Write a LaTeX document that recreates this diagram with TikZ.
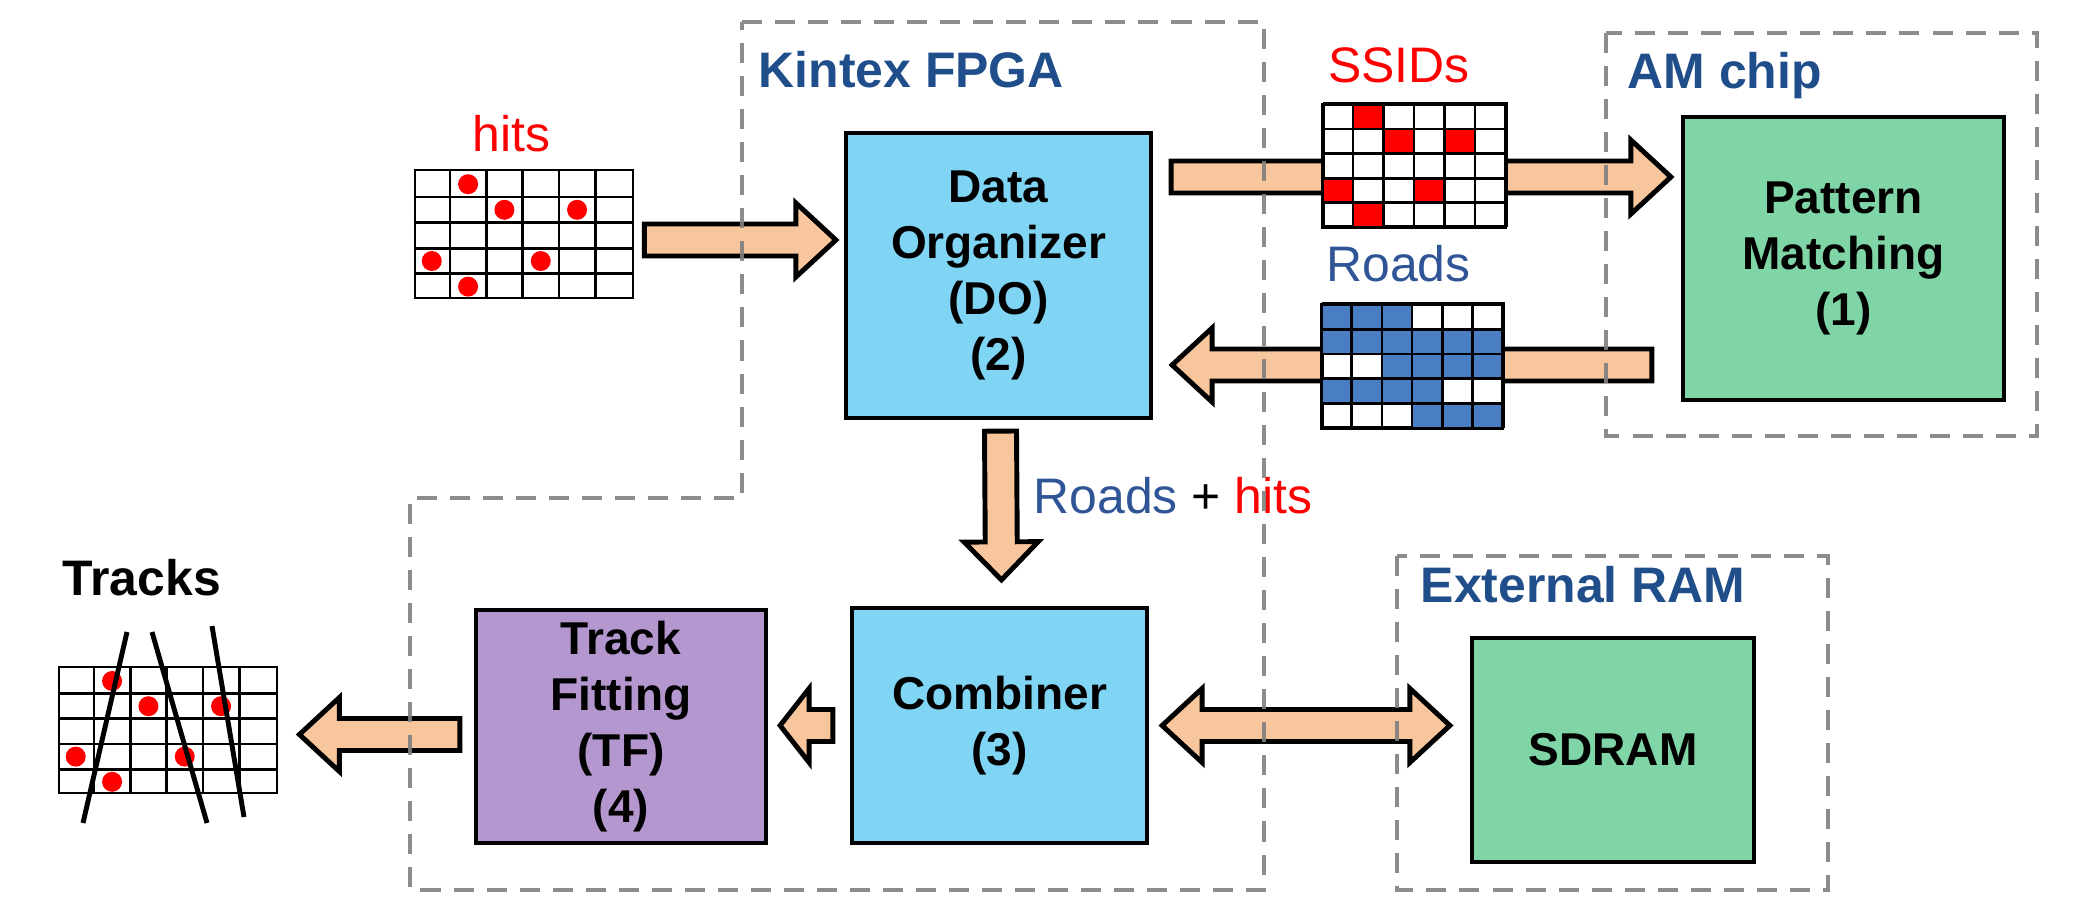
\documentclass[tikz,border=0pt]{standalone}
\usepackage{fontspec}
\setmainfont{Liberation Sans}
\usetikzlibrary{calc}

\definecolor{doblue}{HTML}{80D5F5}
\definecolor{tfpurple}{HTML}{B497CF}
\definecolor{amgreen}{HTML}{80D5A7}
\definecolor{arrowpeach}{HTML}{F8C69C}
\definecolor{titleblue}{HTML}{1F4E8A}
\definecolor{roadtext}{HTML}{2F5597}
\definecolor{roadcell}{HTML}{4A7EC2}
\definecolor{hitred}{HTML}{FF0000}
\definecolor{zonegray}{HTML}{808080}

\newcommand{\boxfont}{\fontsize{13.1}{15.9}\selectfont\bfseries}
\newcommand{\lblfont}{\fontsize{14.2}{17}\selectfont}

% fat block arrow from #2 to #3, head length #1 (cm)
\newcommand{\fatarrow}[3][0.40]{%
  \draw[blockarrow] let \p1=(#2), \p2=(#3),
      \n1={atan2(\y2-\y1,\x2-\x1)}, \n2={veclen(\x2-\x1,\y2-\y1)} in
    [shift={(\p1)}, rotate=\n1]
    (0cm,-0.16cm) -- ({\n2-#1cm},-0.16cm) -- ({\n2-#1cm},-0.37cm)
    -- (\n2,0cm) -- ({\n2-#1cm},0.37cm) -- ({\n2-#1cm},0.16cm)
    -- (0cm,0.16cm) -- cycle;}

% fat arrow with a head at both ends
\newcommand{\dblarrow}[2]{%
  \draw[blockarrow] let \p1=(#1), \p2=(#2),
      \n1={atan2(\y2-\y1,\x2-\x1)}, \n2={veclen(\x2-\x1,\y2-\y1)} in
    [shift={(\p1)}, rotate=\n1]
    (0cm,0cm) -- (0.40cm,0.37cm) -- (0.40cm,0.16cm) -- ({\n2-0.40cm},0.16cm)
    -- ({\n2-0.40cm},0.37cm) -- (\n2,0cm) -- ({\n2-0.40cm},-0.37cm)
    -- ({\n2-0.40cm},-0.16cm) -- (0.40cm,-0.16cm) -- (0.40cm,-0.37cm) -- cycle;}

\begin{document}
\begin{tikzpicture}[
    block/.style={draw=black, line width=1.2pt, inner sep=0pt,
                  font=\boxfont, align=center},
    gridbox/.style={draw=black, line width=0.8pt, fill=white, inner sep=0pt},
    cellline/.style={black, line width=0.75pt},
    blockarrow/.style={draw=black, line width=1.4pt, line join=miter,
                       fill=arrowpeach},
    zone/.style={draw=zonegray, line width=1.15pt,
                 dash pattern=on 5.7pt off 3.7pt, opacity=0.9},
    lbl/.style={font=\lblfont, inner sep=0pt},
    title/.style={font=\lblfont\bfseries, text=titleblue, inner sep=0pt,
                  anchor=base west},
    hit/.style={fill=hitred},
    trackline/.style={black, line width=1.4pt},
]

\path[use as bounding box] (0,0) rectangle (20.81,9.00);

% --- Blocks ---
\node[block, fill=doblue, minimum width=3.05cm, minimum height=2.85cm]
    (DO) at (9.985,6.245) {Data\\Organizer\\(DO)\\(2)};
\node[block, fill=doblue, minimum width=2.95cm, minimum height=2.35cm]
    (comb) at (9.995,1.745) {Combiner\\(3)};
\node[block, fill=tfpurple, minimum width=2.90cm, minimum height=2.33cm]
    (TF) at (6.21,1.735) {Track\\Fitting\\(TF)\\(4)};
\node[block, fill=amgreen, minimum width=3.21cm, minimum height=2.83cm]
    (PM) at (18.435,6.415) {Pattern\\Matching\\(1)};
\node[block, fill=amgreen, minimum width=2.82cm, minimum height=2.24cm]
    (SDRAM) at (16.13,1.50) {SDRAM};

% --- hits and tracks grids ---
\node[gridbox, minimum width=2.18cm, minimum height=1.28cm]
    (hitsgrid) at (5.24,6.66) {};
\begin{scope}[shift={(hitsgrid.south west)}, x=0.3633cm, y=0.256cm]
  \foreach \i in {1,...,5} \draw[cellline] (\i,0) -- (\i,5);
  \foreach \j in {1,...,4} \draw[cellline] (0,\j) -- (6,\j);
  \foreach \cx/\cy in {1.5/4.5, 2.5/3.5, 4.5/3.5, 0.5/1.5, 3.5/1.5, 1.5/0.5}
    \fill[hit] (\cx,\cy) circle[radius=0.1cm];
\end{scope}

\node[gridbox, minimum width=2.18cm, minimum height=1.26cm]
    (tracksgrid) at (1.68,1.70) {};
\begin{scope}[shift={(tracksgrid.south west)}, x=0.3633cm, y=0.252cm]
  \foreach \i in {1,...,5} \draw[cellline] (\i,0) -- (\i,5);
  \foreach \j in {1,...,4} \draw[cellline] (0,\j) -- (6,\j);
  \foreach \cx/\cy in {1.5/4.5, 2.5/3.5, 4.5/3.5, 0.5/1.5, 3.5/1.5, 1.5/0.5}
    \fill[hit] (\cx,\cy) circle[radius=0.1cm];
\end{scope}
\draw[trackline] (1.27,2.68) -- (0.83,0.77);
\draw[trackline] (1.52,2.68) -- (2.07,0.77);
\draw[trackline] (2.12,2.74) -- (2.44,0.83);

% --- Arrows ---
\coordinate (hitsy) at (0,6.60);
\coordinate (ssidy) at (0,7.23);
\coordinate (roady) at (0,5.35);
\fatarrow{$(hitsgrid.east |- hitsy)+(0.10,0)$}{$(DO.west |- hitsy)+(-0.08,0)$}
\fatarrow{$(DO.east |- ssidy)+(0.18,0)$}{$(PM.west |- ssidy)+(-0.10,0)$}
\fatarrow{$(PM.west |- roady)+(-0.29,0)$}{$(DO.east |- roady)+(0.19,0)$}
\fatarrow[0.38]{$(DO.south)+(0.02,-0.11)$}{$(comb.north)+(0.02,0.26)$}
\fatarrow[0.29]{$(comb.west)+(-0.17,0)$}{$(TF.east |- comb.west)+(0.12,0)$}
\fatarrow{$(TF.west)+(-0.14,-0.08)$}{$(tracksgrid.east |- TF.west)+(0.21,-0.08)$}
\dblarrow{$(comb.east)+(0.13,0)$}{$(SDRAM.west |- comb.east)+(-0.20,0)$}

% --- SSIDs and Roads grids (on top of the arrows) ---
\node[gridbox, minimum width=1.83cm, minimum height=1.23cm]
    (ssidgrid) at (14.155,7.355) {};
\begin{scope}[shift={(ssidgrid.south west)}, x=0.305cm, y=0.246cm]
  \foreach \cx/\cy in {1/4, 2/3, 4/3, 0/1, 3/1, 1/0}
    \fill[hitred] (\cx,\cy) rectangle ++(1,1);
  \foreach \i in {1,...,5} \draw[cellline] (\i,0) -- (\i,5);
  \foreach \j in {1,...,4} \draw[cellline] (0,\j) -- (6,\j);
  \draw[cellline] (0,0) rectangle (6,5);
\end{scope}

\node[gridbox, minimum width=1.81cm, minimum height=1.24cm]
    (roadgrid) at (14.135,5.35) {};
\begin{scope}[shift={(roadgrid.south west)}, x=0.3017cm, y=0.248cm]
  \foreach \cx/\cy in {0/4,1/4,2/4, 0/3,1/3,2/3,3/3,4/3,5/3,
                       2/2,3/2,4/2,5/2, 0/1,1/1,2/1,3/1, 3/0,4/0,5/0}
    \fill[roadcell] (\cx,\cy) rectangle ++(1,1);
  \foreach \i in {1,...,5} \draw[cellline] (\i,0) -- (\i,5);
  \foreach \j in {1,...,4} \draw[cellline] (0,\j) -- (6,\j);
  \draw[cellline] (0,0) rectangle (6,5);
\end{scope}

% --- Labels ---
\node[lbl, text=hitred, anchor=base] (hitslbl) at (5.115,7.48) {hits};
\node[lbl, text=hitred, anchor=base] (ssidlbl) at (13.99,8.17) {SSIDs};
\node[lbl, text=roadtext, anchor=base] (roadlbl) at (13.985,6.18) {Roads};
\node[lbl, anchor=base west] (rhlbl) at (10.33,3.87)
    {\textcolor{roadtext}{Roads} + \textcolor{hitred}{hits}};
\node[title] (fpgalbl) at (7.58,8.12) {Kintex FPGA};
\node[title] (amlbl) at (16.27,8.11) {AM chip};
\node[title] (ramlbl) at (14.20,2.98) {External RAM};
\node[title, text=black] (trklbl) at (0.62,3.05) {Tracks};

% --- Chip outlines ---
\draw[zone] (7.42,8.78) -- (12.64,8.78) -- (12.64,0.10) -- (4.10,0.10)
    -- (4.10,4.02) -- (7.42,4.02) -- cycle;
\draw[zone] (16.06,8.67) rectangle (20.37,4.64);
\draw[zone] (13.97,3.44) rectangle (18.28,0.10);

\end{tikzpicture}
\end{document}
